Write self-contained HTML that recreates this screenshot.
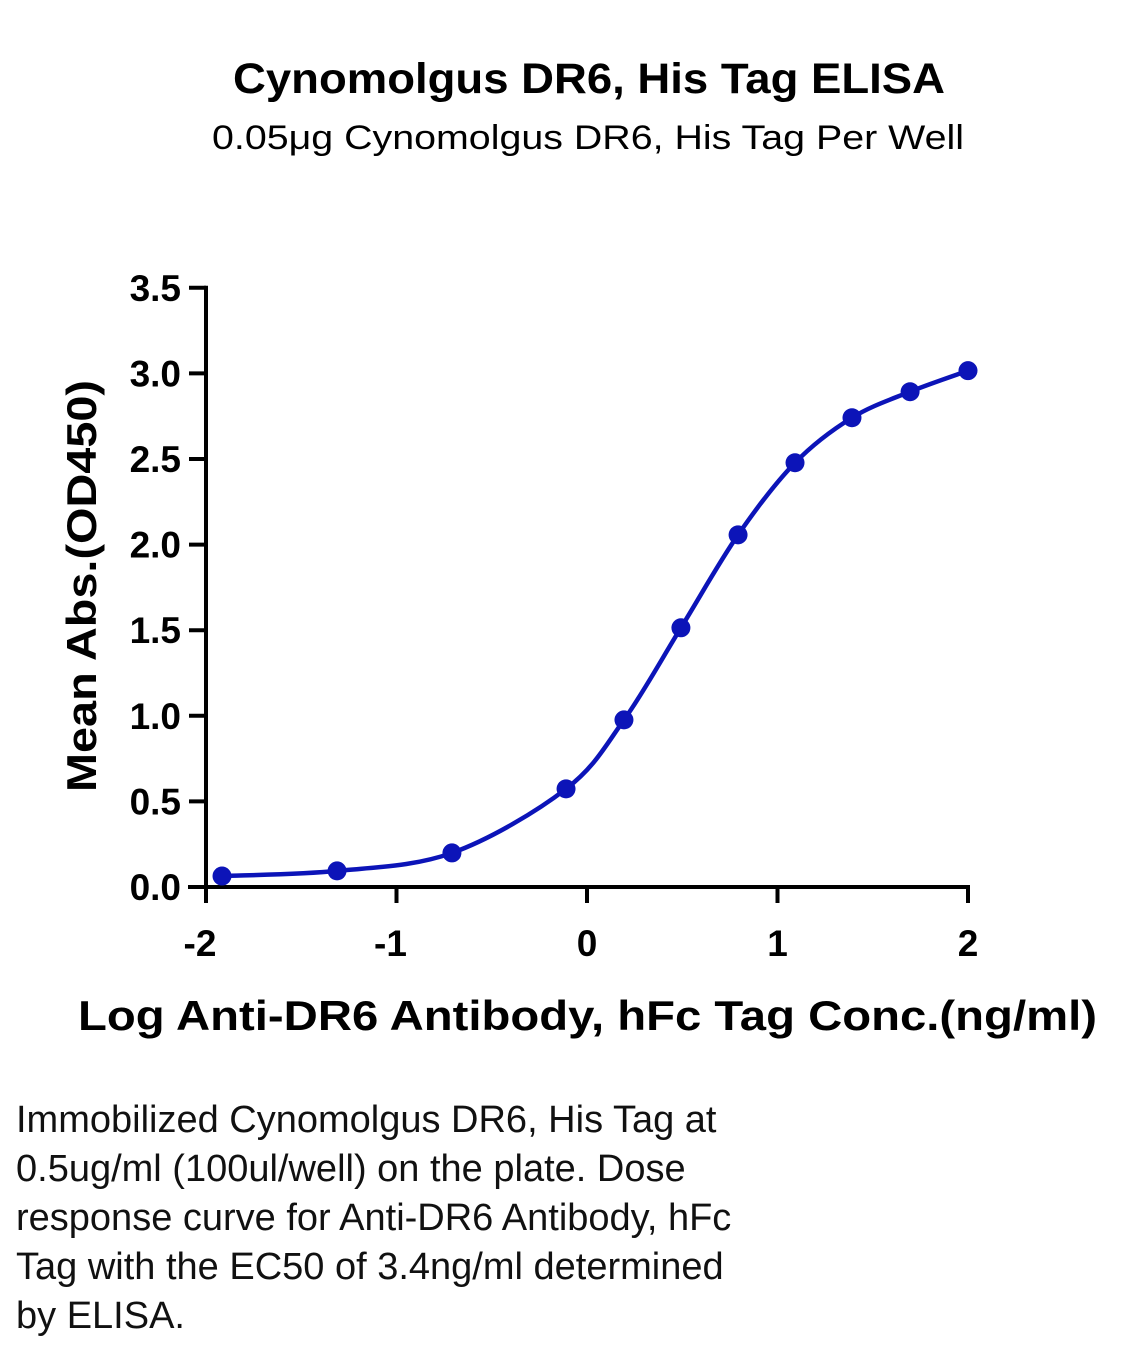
<!DOCTYPE html>
<html><head><meta charset="utf-8"><style>
body{margin:0;background:#fff;width:1143px;height:1356px;overflow:hidden;font-family:"Liberation Sans",sans-serif;}
svg{position:absolute;left:0;top:0}
.cap{position:absolute;left:16px;top:1096px;font-size:38px;line-height:49px;color:#111;width:1000px;white-space:nowrap}
.cap span{display:inline-block}
</style></head><body>
<svg width="1143" height="1080">
<text x="233" y="93" textLength="712" lengthAdjust="spacingAndGlyphs" font-size="43" font-weight="bold">Cynomolgus DR6, His Tag ELISA</text>
<text x="212" y="149" textLength="752" lengthAdjust="spacingAndGlyphs" font-size="34">0.05μg Cynomolgus DR6, His Tag Per Well</text>
<g id="axes"></g>
<path id="curve" fill="none" stroke="#0c14b8" stroke-width="4.5"></path>
<g id="pts"></g>
<text transform="translate(96,586) rotate(-90)" text-anchor="middle" textLength="412" lengthAdjust="spacingAndGlyphs" font-size="42" font-weight="bold">Mean Abs.(OD450)</text>
<text x="78" y="1030" textLength="1019" lengthAdjust="spacingAndGlyphs" font-size="42" font-weight="bold">Log Anti-DR6 Antibody, hFc Tag Conc.(ng/ml)</text>
</svg>
<div class="cap">Immobilized Cynomolgus DR6, His Tag at<br>0.5ug/ml (100ul/well) on the plate. Dose<br>response curve for Anti-DR6 Antibody, hFc<br>Tag with the EC50 of 3.4ng/ml determined<br>by ELISA.</div>
<script>
const xVals=[-1.916,-1.312,-0.709,-0.110,0.194,0.493,0.793,1.092,1.391,1.696,2.0];
const yVals=[0.064,0.094,0.199,0.573,0.976,1.514,2.057,2.478,2.741,2.893,3.016];
const xTicks=[-2,-1,0,1,2];
const yTicks=["0.0","0.5","1.0","1.5","2.0","2.5","3.0","3.5"];
const NS="http://www.w3.org/2000/svg";
const X=v=>206+(v+2)*190.5;
const Y=v=>887-v*171.2;
const ax=document.getElementById('axes');
function el(t,a,p){const e=document.createElementNS(NS,t);for(const k in a)e.setAttribute(k,a[k]);p.appendChild(e);return e;}
let l=el('line',{x1:206,y1:Y(3.5)-2,x2:206,y2:889,stroke:'#000','stroke-width':4},ax);


l=el('line',{x1:188,y1:887,x2:X(2)+2,y2:887,stroke:'#000','stroke-width':4},ax);


yTicks.forEach(t=>{const y=Y(+t);
 const tk=el('line',{x1:189,y1:y,x2:206,y2:y,stroke:'#000','stroke-width':4},ax);
 
 
 const tx=el('text',{x:181,y:y+13,'text-anchor':'end','font-size':37,'font-weight':'bold'},ax);tx.textContent=t;
 
 });
xTicks.forEach(t=>{const x=X(t);
 const tk=el('line',{x1:x,y1:887,x2:x,y2:903,stroke:'#000','stroke-width':4},ax);
 
 
 const tx=el('text',{x:x-(t<0?6:0),y:956,'text-anchor':'middle','font-size':37,'font-weight':'bold'},ax);tx.textContent=t;
 
 });
const P=xVals.map((v,i)=>[X(v),Y(yVals[i])]);
let d='M'+P[0][0]+','+P[0][1];
for(let i=0;i<P.length-1;i++){const p0=P[Math.max(0,i-1)],p1=P[i],p2=P[i+1],p3=P[Math.min(P.length-1,i+2)];
 d+=` C${p1[0]+(p2[0]-p0[0])/6},${p1[1]+(p2[1]-p0[1])/6} ${p2[0]-(p3[0]-p1[0])/6},${p2[1]-(p3[1]-p1[1])/6} ${p2[0]},${p2[1]}`;}
document.getElementById('curve').setAttribute('d',d);
const g=document.getElementById('pts');
P.forEach(p=>{const c=el('circle',{cx:p[0],cy:p[1],r:9.5,fill:'#0c14b8'},g);
 
 });
</script>
</body></html>
